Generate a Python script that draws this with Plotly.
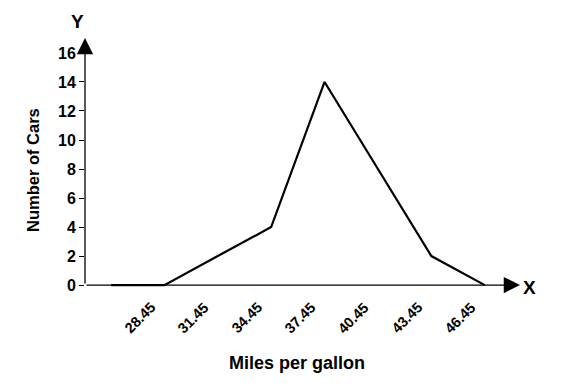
import plotly.graph_objects as go

# Data
class_marks = [26.95, 29.95, 32.95, 35.95, 38.95, 41.95, 44.95, 47.95]
num_cars = [0, 0, 2, 4, 14, 8, 2, 0]
boundaries = [28.45, 31.45, 34.45, 37.45, 40.45, 43.45, 46.45]
boundary_labels = ["28.45", "31.45", "34.45", "37.45", "40.45", "43.45", "46.45"]
y_ticks = [0, 2, 4, 6, 8, 10, 12, 14, 16]

FONT = "Liberation Sans, Arial, sans-serif"
x_min, x_max = 25.49, 49.93
y_min, y_max = -0.2, 17.03

# page body has an 8px margin; work in reference pixel coords and offset
OFF = 8
W, H = 573 - OFF, 386 - OFF
L, R_EDGE, T, B_EDGE = 85 - OFF, 520 - OFF, 38 - OFF, 288 - OFF
plot_w = R_EDGE - L
plot_h = B_EDGE - T


def px(xp):
    return (xp - OFF - L) / plot_w


def py(yp):
    return (B_EDGE - (yp - OFF)) / plot_h


fig = go.Figure()
fig.add_trace(go.Scatter(x=class_marks, y=num_cars, mode="lines",
                         line=dict(color="black", width=2.2), cliponaxis=False,
                         hoverinfo="skip"))

bold = lambda s: dict(family=FONT, size=s, color="black", weight="bold")


def label(xp, yp, text, size, angle=0):
    return dict(x=px(xp), y=py(yp), xref="paper", yref="paper", text=text, showarrow=False,
                textangle=angle, xanchor="center", yanchor="middle", font=bold(size))


annotations = []
# X axis arrow
annotations.append(dict(x=x_max, y=0, ax=x_min, ay=0, xref="x", yref="y", axref="x", ayref="y",
                        showarrow=True, arrowhead=2, arrowsize=2.5, arrowwidth=1.3, arrowcolor="black", text=""))
# Y axis arrow
annotations.append(dict(x=x_min, y=y_max, ax=x_min, ay=0, xref="x", yref="y", axref="x", ayref="y",
                        showarrow=True, arrowhead=2, arrowsize=2.5, arrowwidth=1.3, arrowcolor="black", text=""))
for b, lab in zip(boundaries, boundary_labels):
    xp = 111 + (b - class_marks[0]) / 3.0 * 53.4 + 2
    annotations.append(label(xp, 318, lab, 14.5, -45))
annotations.append(label(297, 363, "Miles per gallon", 18))
annotations.append(label(33, 170, "Number of Cars", 16.5, -90))
annotations.append(label(77, 22, "Y", 19))
annotations.append(label(529, 287, "X", 19))

fig.update_layout(
    annotations=annotations,
    width=W, height=H,
    margin=dict(l=L, r=W - R_EDGE, t=T, b=H - B_EDGE),
    paper_bgcolor="white", plot_bgcolor="white",
    showlegend=False,
    xaxis=dict(range=[x_min, x_max], showgrid=False, zeroline=False, showline=False,
               showticklabels=False, ticks=""),
    yaxis=dict(range=[y_min, y_max], showgrid=False, zeroline=False, showline=False,
               tickvals=y_ticks, ticks="outside", ticklen=5, tickcolor="black", tickwidth=1,
               tickfont=bold(16)),
)

fig.write_html("out.html")
